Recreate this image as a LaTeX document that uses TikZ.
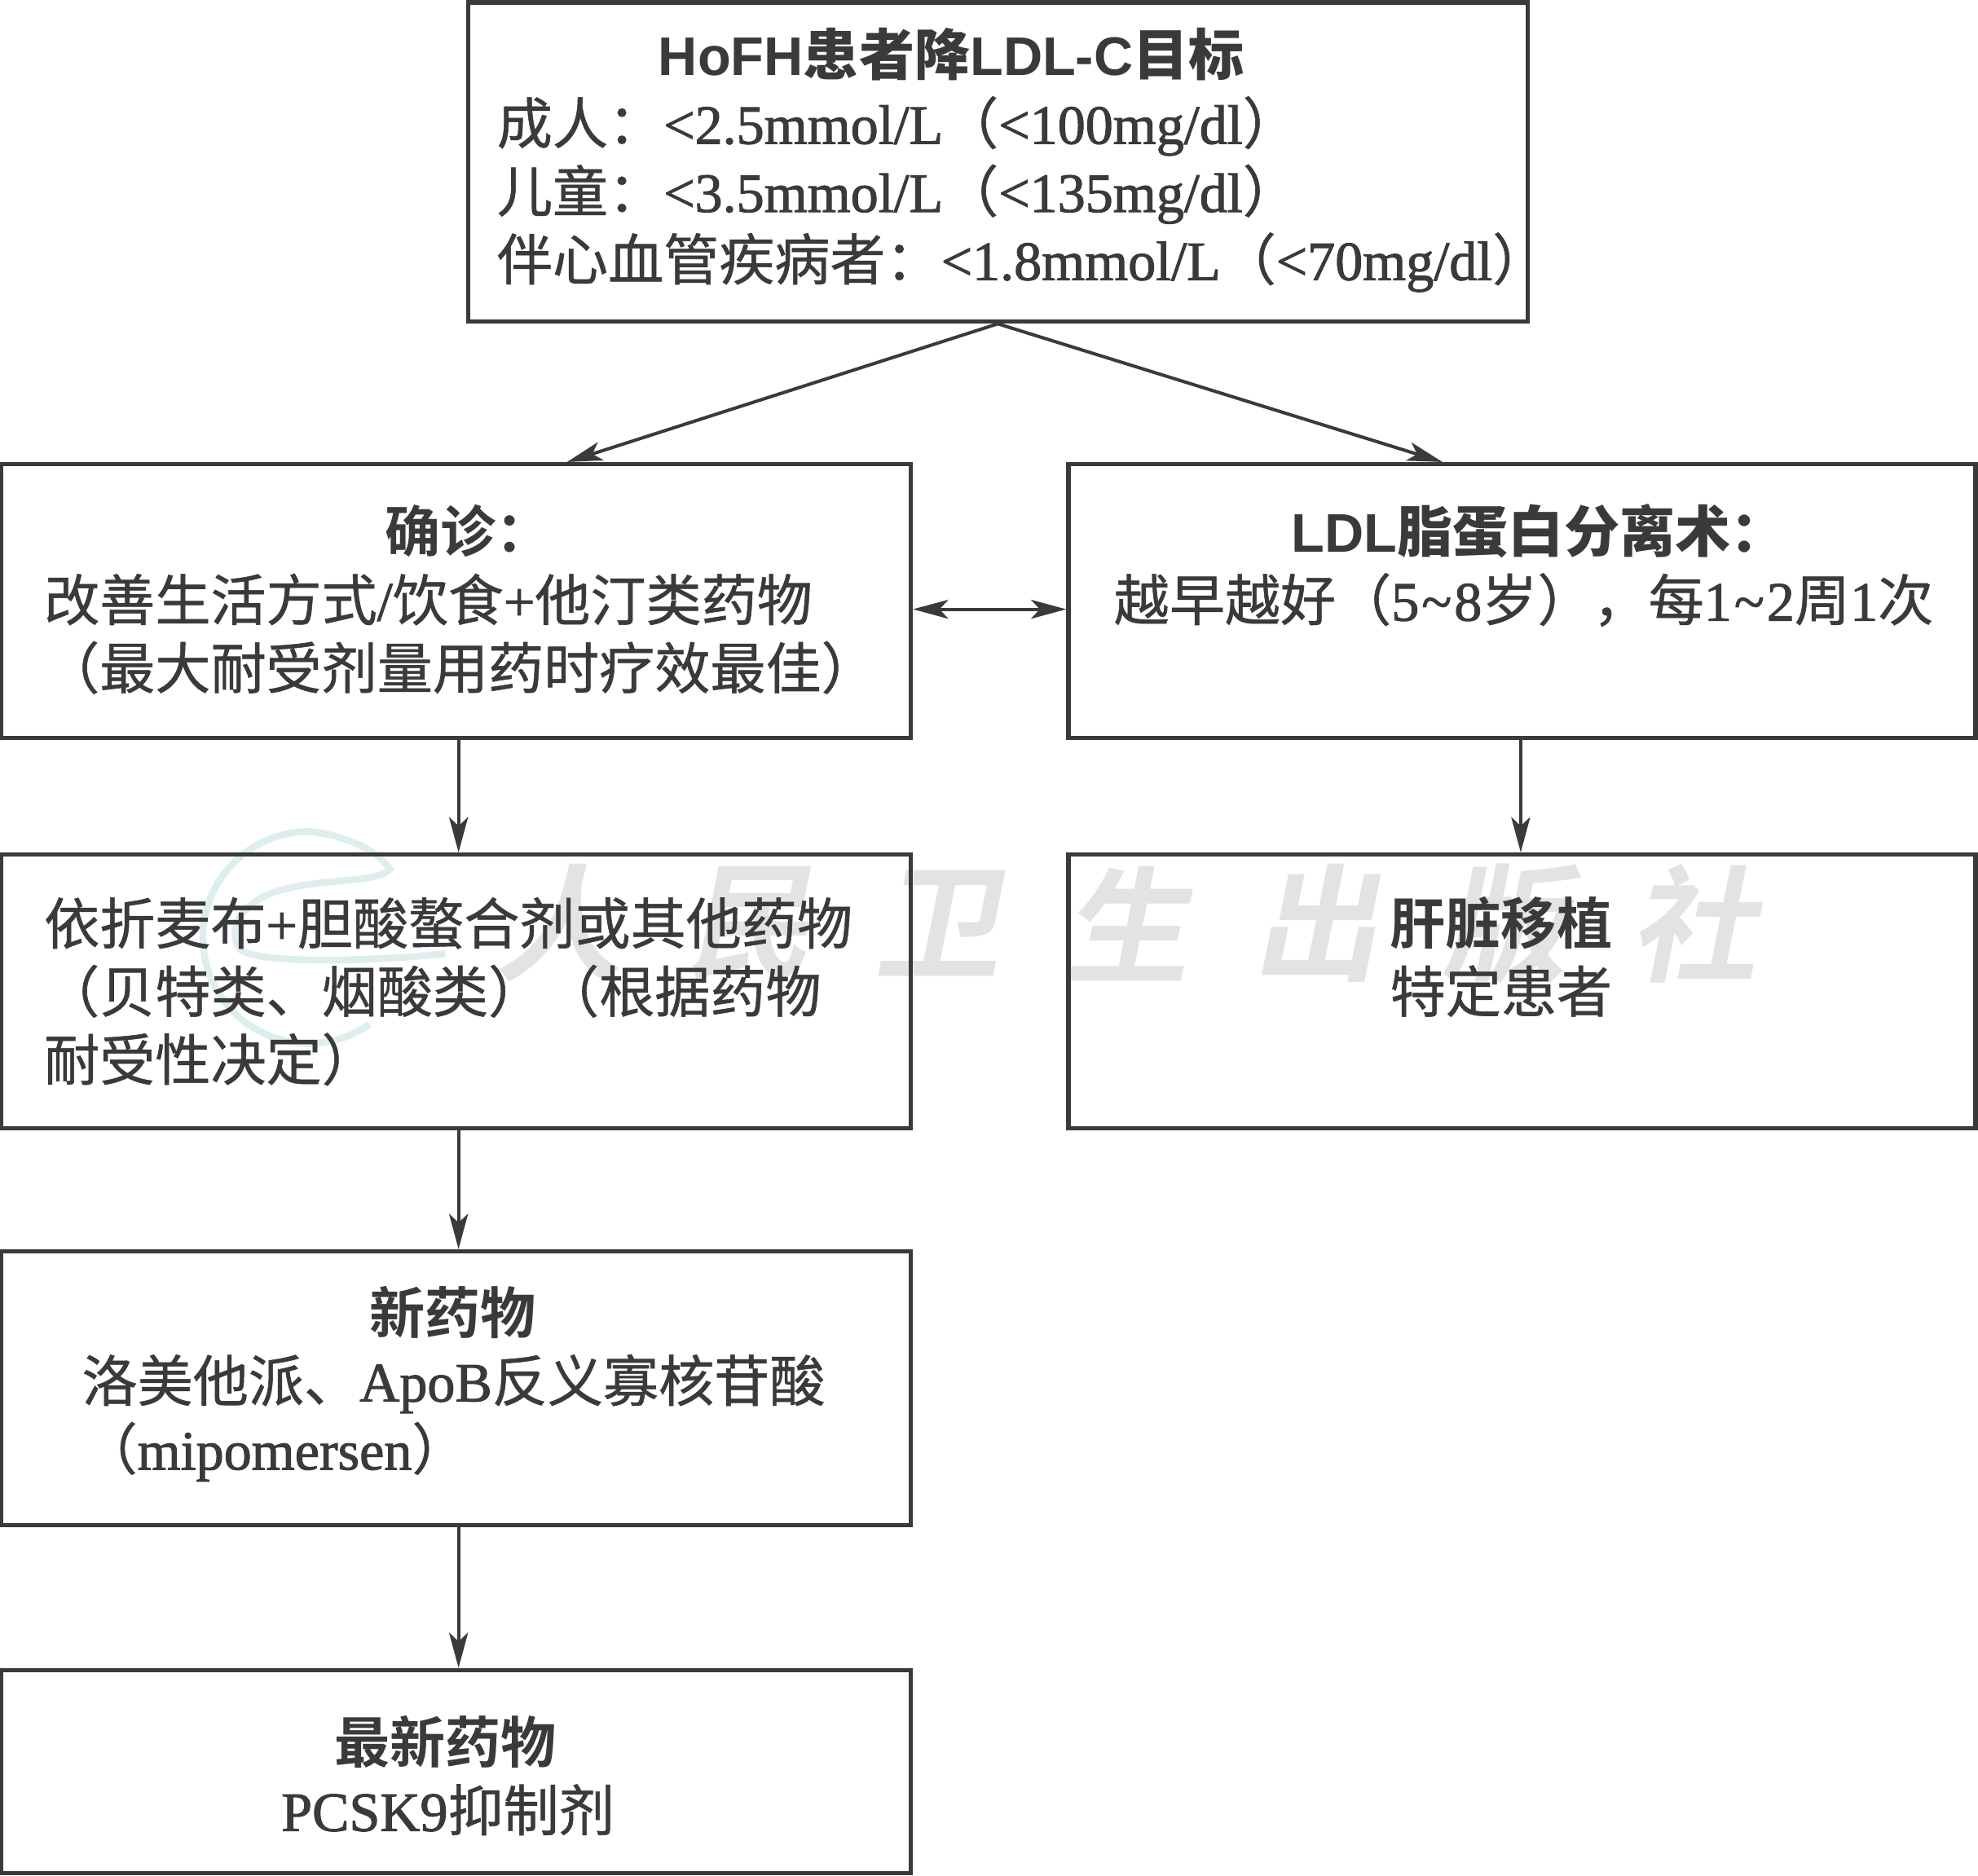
\documentclass[tikz,border=0pt]{standalone}
\usepackage{fontspec}
\usetikzlibrary{arrows.meta}
\setmainfont{Liberation Serif}[FakeBold=1.5]
\newfontfamily\cjkfont{Noto Sans CJK SC}[FakeBold=0.8]
\newfontfamily\cjkbold{Noto Sans CJK SC Bold}
\newfontfamily\headfont{Liberation Sans}[Scale=0.98]
\newcommand{\zh}[1]{{\cjkfont #1}}
\newcommand{\zb}[1]{{\cjkbold #1}}
\newcommand{\hd}[1]{{\headfont\bfseries #1}}
\newcommand{\tld}{\hspace{2pt}\textasciitilde\hspace{2pt}}
\definecolor{ink}{HTML}{3A3A3A}
\begin{document}
\begin{tikzpicture}[x=1pt,y=-1pt,
  mybox/.style={draw=ink,line width=3.4pt,text=ink,inner sep=0pt,inner xsep=34pt,text width=653pt,
    minimum width=721pt,text height=33pt,text depth=110pt,align=flush left,font=\fontsize{44}{54}\selectfont},
  rightbox/.style={mybox,minimum width=719pt,inner xsep=36pt,text width=647pt},
  myarrow/.style={draw=ink,line width=2.6pt,-{Stealth[length=28pt,width=15pt,inset=7pt]}}]

\useasboundingbox (0,0) rectangle (1568,1487.2);

% watermark under the boxes
\foreach \ch [count=\i,evaluate={\x=300+150*\i;}] in {人,民,卫,生,出,版,社}{
  \node[text=black!11,font=\cjkbold\fontsize{100}{100}\selectfont,xslant=0.2] (mark\i) at (\x,732) {\ch};
}
\draw[teal!13,line width=5.5pt] (293,812) arc (-305:-90:84)
  .. controls (275,662) and (300,675) .. (309,689) .. controls (300,700) and (260,696) .. (225,705)
  .. controls (195,712) and (178,735) .. (190,752) .. controls (200,765) and (300,762) .. (353,756);

% boxes
\node[mybox,minimum width=840pt,text width=812pt,inner xsep=14pt,text depth=170pt,minimum height=253pt] (goal) at (791,128.5) {%
  \hspace*{137pt}\hd{HoFH{\cjkbold 患者降}LDL-C{\cjkbold 目标}}\\
  \hspace*{9pt}\zh{成人：}<2.5mmol/L\zh{（}<100mg/dl\zh{）}\\
  \hspace*{9pt}\zh{儿童：}<3.5mmol/L\zh{（}<135mg/dl\zh{）}\\
  \hspace*{9pt}\zh{伴心血管疾病者：}<1.8mmol/L\zh{（}<70mg/dl\zh{）}};
\node[mybox,minimum height=217pt] (confirm) at (361.5,476.5) {%
  \hspace*{270pt}\zb{确诊：}\\
  \zh{改善生活方式}/\zh{饮食}+\zh{他汀类药物}\\
  \zh{（最大耐受剂量用药时疗效最佳）}};
\node[rightbox,minimum height=217pt] (apheresis) at (1206.5,476.5) {%
  \hspace*{141pt}\hd{LDL{\cjkbold 脂蛋白分离术：}}\\
  \mbox{\zh{越早越好（}5\tld8\zh{岁），每}1\tld2\zh{周}1\zh{次}}\\
  \mbox{}};
\node[mybox,text depth=108pt,minimum height=217pt] (addon) at (361.5,786) {%
  \zh{依折麦布}+\zh{胆酸螯合剂或其他药物}\\
  \zh{（贝特类、烟酸类）（根据药物}\\
  \zh{耐受性决定）}};
\node[rightbox,text depth=108pt,minimum height=217pt] (liver) at (1206.5,786) {%
  \hspace*{219pt}\zb{肝脏移植}\\
  \hspace*{219pt}\zh{特定患者}\\
  \mbox{}};
\node[mybox,text depth=120pt,minimum height=217pt] (newdrug) at (361.5,1100.5) {%
  \hspace*{258pt}\zb{新药物}\\
  \hspace*{30pt}\zh{洛美他派、}ApoB\zh{反义寡核苷酸}\\
  \hspace*{30pt}\zh{（}mipomersen\zh{）}};
\node[mybox,text depth=47pt,minimum height=161pt] (latest) at (361.5,1404.5) {%
  \hspace*{230pt}\zb{最新药物}\\
  \hspace*{188pt}PCSK9\zh{抑制剂}};

% arrows
\draw[myarrow] (goal.south) -- ([xshift=88pt]confirm.north);
\draw[myarrow] (goal.south) -- ([xshift=-63pt]apheresis.north);
\draw[myarrow,{Stealth[length=28pt,width=15pt,inset=7pt]}-{Stealth[length=28pt,width=15pt,inset=7pt]}]
  ([yshift=-6.5pt]confirm.east) -- ([yshift=-6.5pt]apheresis.west);
\draw[myarrow] ([xshift=2pt]confirm.south) -- ([xshift=2pt]addon.north);
\draw[myarrow] ([xshift=-1pt]apheresis.south) -- ([xshift=-1pt]liver.north);
\draw[myarrow] ([xshift=2pt]addon.south) -- ([xshift=2pt]newdrug.north);
\draw[myarrow] ([xshift=2pt]newdrug.south) -- ([xshift=2pt]latest.north);
\end{tikzpicture}
\end{document}
